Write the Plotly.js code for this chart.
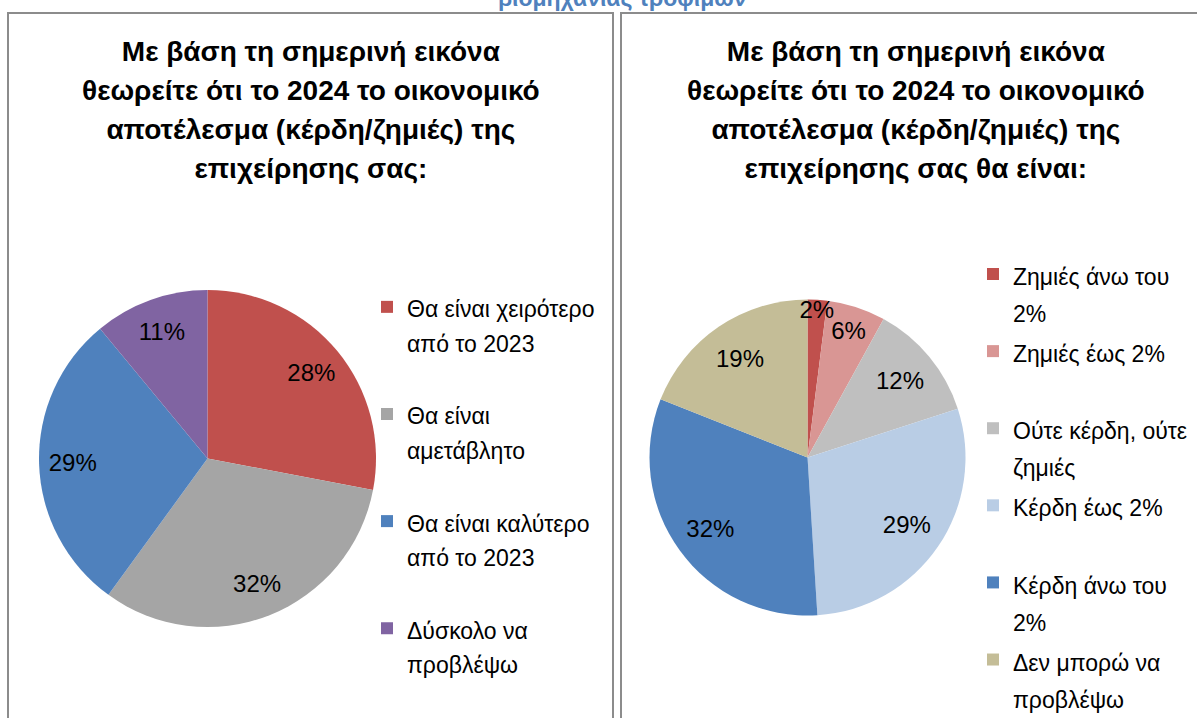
<!DOCTYPE html>
<html>
<head>
<meta charset="utf-8">
<script src="https://cdn.plot.ly/plotly-3.0.1.min.js"></script>
<style>html,body{margin:0;padding:0;background:#fff;}#chart{width:1197px;height:718px;}</style>
</head>
<body>
<div id="chart"></div>
<script>
// ---- data ----
var pageHeading = "βιομηχανίας τροφίμων";
var title1Lines = ["Με βάση τη σημερινή εικόνα", "θεωρείτε ότι το 2024 το οικονομικό", "αποτέλεσμα (κέρδη/ζημιές) της", "επιχείρησης σας:"];
var title2Lines = ["Με βάση τη σημερινή εικόνα", "θεωρείτε ότι το 2024 το οικονομικό", "αποτέλεσμα (κέρδη/ζημιές) της", "επιχείρησης σας θα είναι:"];

var categories1 = [["Θα είναι χειρότερο", "από το 2023"], ["Θα είναι", "αμετάβλητο"], ["Θα είναι καλύτερο", "από το 2023"], ["Δύσκολο να", "προβλέψω"]];
var values1 = [28, 32, 29, 11];
var colors1 = ["#C0504D", "#A5A5A5", "#4F81BD", "#8064A2"];

var categories2 = [["Ζημιές άνω του", "2%"], ["Ζημιές έως 2%"], ["Ούτε κέρδη, ούτε", "ζημιές"], ["Κέρδη έως 2%"], ["Κέρδη άνω του", "2%"], ["Δεν μπορώ να", "προβλέψω"]];
var values2 = [2, 6, 12, 29, 32, 19];
var colors2 = ["#C0504D", "#D99694", "#BFBFBF", "#B9CDE5", "#4F81BD", "#C4BD97"];

// ---- helpers ----
var W = 1197, H = 718;
function px(x) { return x / W; }
function py(y) { return 1 - y / H; }
function legendLabel(lines, total, size) {
  var out = lines.map(function (l) { return '<span style="font-size:' + size + 'px">' + l + '</span>'; });
  while (out.length < total) out.push("\u00a0");
  return out.join("<br>");
}
function titleText(lines, size) {
  return lines.map(function (l) { return '<b><span style="font-size:' + size + 'px">' + l + '</span></b>'; }).join("<br>");
}
var baseFont = "Liberation Sans, Arial, sans-serif";

// colored pie + transparent ring (same geometry) that carries the percent labels on top
function pieTraces(cats, vals, cols, cx, cy, r, labelHole, orient, totalLines, legendId) {
  var labels = cats.map(function (c) { return legendLabel(c, totalLines, 23); });
  var dom = { x: [px(cx - r), px(cx + r)], y: [py(cy + r), py(cy - r)] };
  var pie = {
    type: "pie", labels: labels, values: vals, sort: false, direction: "clockwise", rotation: 0,
    marker: { colors: cols, line: { width: 0 } }, textinfo: "none",
    hoverinfo: "label+percent", legend: legendId, domain: dom
  };
  var labelRing = {
    type: "pie", labels: labels, values: vals, sort: false, direction: "clockwise", rotation: 0,
    hole: labelHole, showlegend: false, hoverinfo: "skip", legend: legendId,
    marker: { colors: vals.map(function () { return "rgba(0,0,0,0)"; }), line: { width: 0 } },
    texttemplate: "%{value}%", textposition: "inside", insidetextorientation: orient,
    textfont: { family: baseFont, size: 24, color: "#000" },
    domain: dom
  };
  return [pie, labelRing];
}

var traces = []
  .concat(pieTraces(categories1, values1, colors1, 207.5, 458.5, 168.5, 0.6, "auto", 3, "legend"))
  .concat(pieTraces(categories2, values2, colors2, 807.5, 457.5, 158, 0.52, "horizontal", 2, "legend2"));

var layout = {
  width: W, height: H,
  margin: { l: 0, r: 0, t: 0, b: 0, autoexpand: false },
  paper_bgcolor: "#fff",
  plot_bgcolor: "#fff",
  showlegend: true,
  uniformtext: { mode: "show", minsize: 24 },
  legend: {
    x: px(367), y: py(283), xanchor: "left", yanchor: "top",
    valign: "top", bgcolor: "rgba(0,0,0,0)",
    font: { family: baseFont, size: 26.7, color: "#000" }
  },
  legend2: {
    x: px(973), y: py(249), xanchor: "left", yanchor: "top",
    valign: "top", bgcolor: "rgba(0,0,0,0)",
    font: { family: baseFont, size: 28.5, color: "#000" }
  },
  shapes: [
    { type: "rect", xref: "paper", yref: "paper", x0: px(8), x1: px(613), y0: -0.02, y1: py(13),
      line: { color: "#8C8C8C", width: 2 }, fillcolor: "rgba(0,0,0,0)", layer: "below" },
    { type: "rect", xref: "paper", yref: "paper", x0: px(621), x1: 1.02, y0: -0.02, y1: py(13),
      line: { color: "#8C8C8C", width: 2 }, fillcolor: "rgba(0,0,0,0)", layer: "below" }
  ],
  annotations: [
    { text: "<b>" + pageHeading + "</b>", xref: "paper", yref: "paper", x: px(622), y: py(13),
      xanchor: "center", yanchor: "bottom", showarrow: false,
      font: { family: baseFont, size: 23, color: "#4F81BD" } },
    { text: titleText(title1Lines, 28), xref: "paper", yref: "paper", x: px(311), y: py(34),
      xanchor: "center", yanchor: "top", showarrow: false, align: "center",
      font: { family: "Liberation Sans Narrow, Arial Narrow, sans-serif", size: 30, color: "#000" } },
    { text: titleText(title2Lines, 28), xref: "paper", yref: "paper", x: px(916), y: py(34),
      xanchor: "center", yanchor: "top", showarrow: false, align: "center",
      font: { family: "Liberation Sans Narrow, Arial Narrow, sans-serif", size: 30, color: "#000" } }
  ]
};

Plotly.newPlot("chart", traces, layout, { displayModeBar: false, staticPlot: true });
</script>
</body>
</html>
